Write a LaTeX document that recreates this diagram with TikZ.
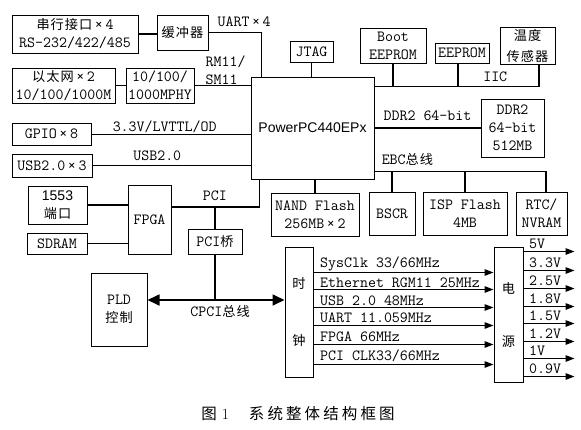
\documentclass[tikz,border=0pt]{standalone}
\usepackage{fontspec}
\newfontfamily\cjk[LetterSpace=8,Scale=0.85]{Noto Sans CJK SC}
\newfontfamily\sansf{Liberation Sans}
\newfontfamily\capfont[LetterSpace=20]{Noto Sans CJK SC}
\usetikzlibrary{arrows.meta,calc}
\begin{document}
\begin{tikzpicture}[x=1pt,y=-1pt,
  font=\fontsize{15.5}{18}\ttfamily,
  box/.style={draw,line width=1pt,inner sep=0pt,align=center},
  thinln/.style={line width=1pt},
  busln/.style={line width=1.7pt},
  clkarr/.style={line width=1.3pt,-{Triangle[length=9pt,width=6.5pt]}},
  cpciarr/.style={line width=1.7pt,{Triangle[length=12pt,width=11pt]}-{Triangle[length=12pt,width=11pt]}},
  lab/.style={inner sep=0pt},
]
\useasboundingbox (0,0) rectangle (581,429);

% ---- boxes ----
\node[box,minimum width=126pt,minimum height=38pt] (ser) at (75,34) {{\cjk 串行接口}\,×\,4\\RS-232/422/485};
\node[box,minimum width=51pt,minimum height=35pt] (buf) at (182.5,32.5) {{\cjk 缓冲器}};
\node[box,minimum width=103pt,minimum height=35pt] (eth) at (63.5,85.5) {{\cjk 以太网}\,×\,2\\10/100/1000M};
\node[box,minimum width=68pt,minimum height=35pt] (phy) at (160,85.5) {10/100/\\1000MPHY};
\node[box,minimum width=79pt,minimum height=22pt] (gpio) at (51.5,134) {GPIO\,×\,8};
\node[box,minimum width=80pt,minimum height=23pt] (usb) at (52,165.5) {USB2.0\,×\,3};
\node[box,minimum width=59pt,minimum height=38pt] (p1553) at (57.5,205) {{\sansf\fontsize{14}{18}\selectfont 1553}\\{\cjk 端口}};
\node[box,minimum width=43pt,minimum height=69pt] (fpga) at (149.5,219.5) {FPGA};
\node[box,minimum width=60pt,minimum height=21pt] (sdram) at (57,243.5) {SDRAM};
\node[box,minimum width=54pt,minimum height=25pt] (pcib) at (215,241.5) {PCI{\cjk 桥}};
\node[box,minimum width=56pt,minimum height=73pt] (pld) at (119,309.5) {PLD\\{\cjk 控制}};
\node[box,minimum width=43pt,minimum height=21pt] (jtag) at (311.5,51.5) {JTAG};
\node[box,minimum width=66pt,minimum height=35pt] (boot) at (393,45.5) {Boot\\EEPROM};
\node[box,minimum width=54pt,minimum height=20pt] (eep) at (462,53) {EEPROM};
\node[box,minimum width=55pt,minimum height=37pt] (temp) at (527.5,45.5) {{\cjk 温度}\\[3pt]{\cjk 传感器}};
\node[box,minimum width=123pt,minimum height=102pt] (ppc) at (312.5,128) {{\sansf\fontsize{14}{18}\selectfont PowerPC440EPx}};
\node[box,minimum width=63pt,minimum height=58pt] (ddr) at (512.5,128) {DDR2\\64-bit\\512MB};
\node[box,minimum width=88pt,minimum height=43pt] (nand) at (315,214.5) {NAND Flash\\256MB\,×\,2};
\node[box,minimum width=46pt,minimum height=43pt] (bscr) at (392,213.5) {BSCR};
\node[box,minimum width=84pt,minimum height=43pt] (isp) at (465,213.5) {ISP Flash\\4MB};
\node[box,minimum width=51pt,minimum height=43pt] (rtc) at (541.5,213.5) {RTC/\\NVRAM};
\node[box,minimum width=28pt,minimum height=130pt] (clk) at (299,312) {{\cjk 时}\\[39pt]{\cjk 钟}};
\node[box,minimum width=29pt,minimum height=135pt] (pwr) at (508.5,314.5) {{\cjk 电}\\[35pt]{\cjk 源}};

% ---- named helper points ----
\coordinate (uartin) at ([xshift=11pt]ppc.north west);
\coordinate (pcibus) at ([yshift=12.5pt]fpga.east);
\coordinate (pciin) at ([xshift=9pt]ppc.south west);
\coordinate (cpcil) at ([yshift=9.5pt]pld.east);
\coordinate (iic) at ([yshift=-10pt]ppc.north east);
\coordinate (eepdrop) at ([xshift=-4pt]eep.south);
\coordinate (tempdrop) at ([xshift=11.5pt]temp.south);
\coordinate (ebc) at ([yshift=8pt]ppc.south east);
\coordinate (rtcdrop) at ([xshift=4.5pt]rtc.north);

% ---- left side ----
\draw[busln] (ser.east) -- (ser.east -| buf.west);
\draw[busln] (buf.east) -| node[lab,pos=0.336,above=4.5pt]{UART\,×\,4} (uartin);
\draw[thinln] (eth.east) -- (phy.west);
\draw[thinln] (phy.east) -- (phy.east -| ppc.west);
\node[lab,anchor=south west,align=left] (rmlab) at ([xshift=11pt,yshift=1pt]phy.east) {RM11/\\SM11};
\draw[thinln] (gpio.east) -- node[lab,pos=0.46,above=1pt]{3.3V/LVTTL/OD} (gpio.east -| ppc.west);
\draw[thinln] (usb.east) -- node[lab,pos=0.41,above=4.8pt]{USB2.0} (usb.east -| ppc.west);
\draw[busln] (p1553.east) -- (p1553.east -| fpga.west);
\draw[busln] (sdram.east) -- (sdram.east -| fpga.west);
\draw[busln] (pcibus) -| node[lab,pos=0.247,above=5.3pt]{PCI} (pciin);
\draw[busln] (pcib.north) -- (pcib.north |- pcibus);
\draw[busln] (pcib.south) -- (pcib.south |- cpcil);
\draw[cpciarr] (cpcil) -- node[lab,pos=0.53,below=5pt]{CPCI{\cjk 总线}} (cpcil -| clk.west);

% ---- top / right ----
\draw[busln] (jtag.south) -- (jtag.south |- ppc.north);
\draw[busln] (iic) -| node[lab,pos=0.367,above=4.3pt]{IIC} (tempdrop);
\draw[busln] (boot.south) -- (boot.south |- iic);
\draw[busln] (eepdrop) -- (eepdrop |- iic);
\draw[line width=1.5pt] (ppc.east |- ddr.west) -- node[lab,above=6.3pt]{DDR2 64-bit} (ddr.west);
\draw[busln] (ebc) -| node[lab,pos=0.096,above=5.5pt]{EBC{\cjk 总线}} (rtcdrop);
\draw[busln] (bscr.north) -- (bscr.north |- ebc);
\draw[busln] (isp.north) -- (isp.north |- ebc);
\draw[busln] (nand.north) -- (nand.north |- ppc.south);

% ---- clock outputs ----
\draw[clkarr] ($(clk.north east)+(0,26)$) -- node[lab,pos=0,anchor=base west,xshift=6pt,yshift=5pt]{SysClk 33/66MHz} ($(pwr.north west)+(0,26)$);
\draw[clkarr] ($(clk.north east)+(0,43)$) -- node[lab,pos=0,anchor=base west,xshift=6pt,yshift=2.5pt]{Ethernet RGM11 25MHz} ($(pwr.north west)+(0,43)$);
\draw[clkarr] ($(clk.north east)+(0,61)$) -- node[lab,pos=0,anchor=base west,xshift=6pt,yshift=2.5pt]{USB 2.0 48MHz} ($(pwr.north west)+(0,61)$);
\draw[clkarr] ($(clk.north east)+(0,79)$) -- node[lab,pos=0,anchor=base west,xshift=6pt,yshift=3.3pt]{UART 11.059MHz} ($(pwr.north west)+(0,79)$);
\draw[clkarr] ($(clk.north east)+(0,98)$) -- node[lab,pos=0,anchor=base west,xshift=6pt,yshift=3.3pt]{FPGA 66MHz} ($(pwr.north west)+(0,98)$);
\draw[clkarr] ($(clk.north east)+(0,118)$) -- node[lab,pos=0,anchor=base west,xshift=6pt,yshift=4.3pt]{PCI CLK33/66MHz} ($(pwr.north west)+(0,118)$);

% ---- power outputs ----
\draw[clkarr] ($(pwr.north east)+(0,5)$) -- node[lab,pos=0,anchor=base west,xshift=5pt,yshift=3pt]{5V} ($(pwr.north east)+(51,5)$);
\draw[clkarr] ($(pwr.north east)+(0,24)$) -- node[lab,pos=0,anchor=base west,xshift=5pt,yshift=3pt]{3.3V} ($(pwr.north east)+(51,24)$);
\draw[clkarr] ($(pwr.north east)+(0,42)$) -- node[lab,pos=0,anchor=base west,xshift=5pt,yshift=3pt]{2.5V} ($(pwr.north east)+(51,42)$);
\draw[clkarr] ($(pwr.north east)+(0,60)$) -- node[lab,pos=0,anchor=base west,xshift=5pt,yshift=3pt]{1.8V} ($(pwr.north east)+(51,60)$);
\draw[clkarr] ($(pwr.north east)+(0,77)$) -- node[lab,pos=0,anchor=base west,xshift=5pt,yshift=3pt]{1.5V} ($(pwr.north east)+(51,77)$);
\draw[clkarr] ($(pwr.north east)+(0,95)$) -- node[lab,pos=0,anchor=base west,xshift=5pt,yshift=3pt]{1.2V} ($(pwr.north east)+(51,95)$);
\draw[clkarr] ($(pwr.north east)+(0,112)$) -- node[lab,pos=0,anchor=base west,xshift=5pt,yshift=3pt]{1V} ($(pwr.north east)+(51,112)$);
\draw[clkarr] ($(pwr.north east)+(0,130)$) -- node[lab,pos=0,anchor=base west,xshift=5pt,yshift=3pt]{0.9V} ($(pwr.north east)+(51,130)$);

% ---- caption ----
\node[lab,font=\fontsize{15.5}{18}\selectfont] (cap) at (298,414) {{\capfont 图}\hspace{5pt}{\rmfamily 1}\hspace{20pt}{\capfont 系统整体结构框图}};
\end{tikzpicture}
\end{document}
